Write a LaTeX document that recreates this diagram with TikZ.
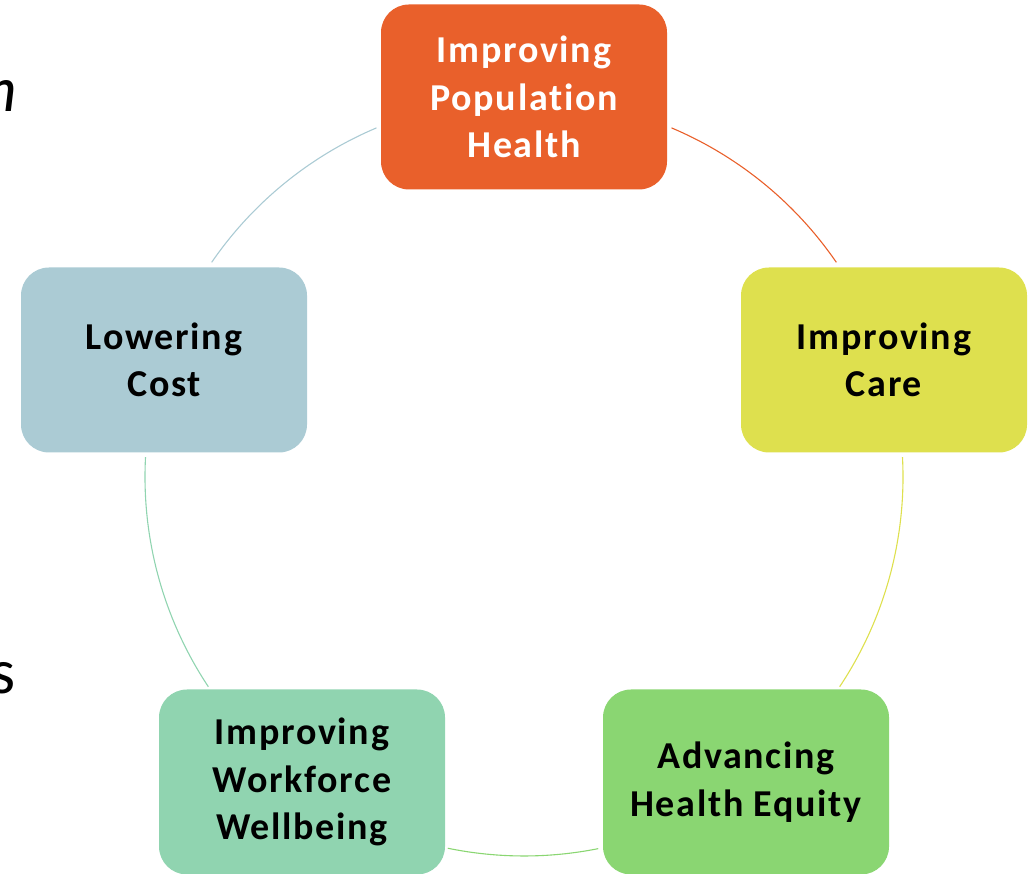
\documentclass[tikz,border=0pt]{standalone}
\usepackage{fontspec}
\setmainfont{Carlito}
\newfontfamily\boxfont[LetterSpace=4.5,Ligatures=NoCommon]{Carlito}
\definecolor{corange}{HTML}{E9602B}
\definecolor{cyellow}{HTML}{DEE04E}
\definecolor{cgreen}{HTML}{8AD672}
\definecolor{cteal}{HTML}{90D4B0}
\definecolor{cblue}{HTML}{ABCBD4}
\begin{document}
\begin{tikzpicture}[x=1pt,y=1pt,
  box/.style={rounded corners=28pt, minimum width=286pt, minimum height=185pt,
    align=center, inner sep=0pt, font=\boxfont\fontsize{38}{47.5}\selectfont\bfseries},
  ring/.style={line width=1.1pt}]
\useasboundingbox (0,0) rectangle (1035,874);
\clip (0,0) rectangle (1035,874);
% background text fragments
\node[anchor=east, inner sep=0pt, font=\fontsize{64}{70}\selectfont\itshape] (fm) at (17,778) {m};
\node[anchor=east, inner sep=0pt, font=\fontsize{64}{70}\selectfont] (fs) at (16,196) {s};
% centre of the cycle
\coordinate (c) at (524,397);
% nodes
\node[box, fill=corange, text=white] (top) at (524,777) {Improving\\Population\\Health};
\node[box, fill=cyellow] (right) at (884,514) {Improving\\Care};
\node[box, fill=cgreen] (lr) at (746,92) {Advancing\\Health Equity};
\node[box, fill=cteal] (ll) at (302,92) {Improving\\Workforce\\Wellbeing};
\node[box, fill=cblue] (left) at (164,514) {Lowering\\Cost};
% arcs
\draw[ring, corange] (c) ++(67.1:379) arc[start angle=67.1, end angle=34.5, radius=379];
\draw[ring, cyellow] (c) ++(3.0:379) arc[start angle=3.0, end angle=-33.6, radius=379];
\draw[ring, cgreen] (c) ++(-78.7:379) arc[start angle=-78.7, end angle=-101.6, radius=379];
\draw[ring, cteal] (c) ++(213.6:379) arc[start angle=213.6, end angle=177, radius=379];
\draw[ring, cblue] (c) ++(145.5:379) arc[start angle=145.5, end angle=112.9, radius=379];
\end{tikzpicture}
\end{document}
